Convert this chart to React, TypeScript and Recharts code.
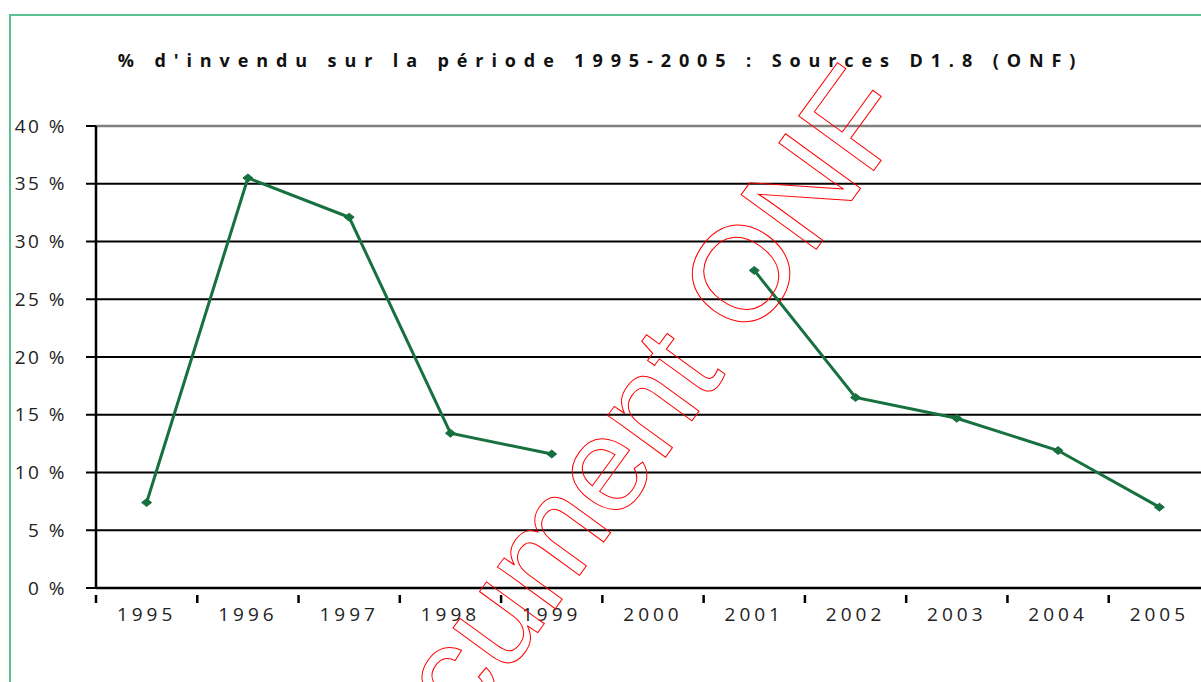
import React from "react";
import {
  LineChart,
  Line,
  XAxis,
  YAxis,
  CartesianGrid,
  ReferenceLine,
} from "recharts";

const years = ["1995", "1996", "1997", "1998", "1999", "2000", "2001", "2002", "2003", "2004", "2005"];
const unsold: (number | null)[] = [7.4, 35.5, 32.1, 13.4, 11.6, null, 27.5, 16.5, 14.7, 11.9, 7.0];
const yTicks = [0, 5, 10, 15, 20, 25, 30, 35, 40];

const TITLE = "% d'invendu sur la période 1995-2005 : Sources D1.8 (ONF)";
const WATERMARK = "Document ONF";

const CHART_W = 1220;
const CHART_H = 682;
const MARGIN = { top: 126, right: 10, bottom: 0, left: 0 };
const Y_W = 96;
const X_H = 94;
const BAND = (CHART_W - MARGIN.left - MARGIN.right - Y_W) / years.length;

const FONT = "'Open Sans', 'Noto Sans', sans-serif";
const GREEN = "#17703f";

const chartData = years.map((year, i) => ({ year, value: unsold[i] }));

function YearTick(props: any) {
  const { x, y, payload, index } = props;
  const left = x - BAND / 2;
  return (
    <g>
      <line x1={left} y1={y - 1} x2={left} y2={y + 7} stroke="#000" strokeWidth={2.5} />
      {index === years.length - 1 && (
        <line x1={left + BAND} y1={y - 1} x2={left + BAND} y2={y + 7} stroke="#000" strokeWidth={2.5} />
      )}
      <text
        x={x}
        y={y + 25}
        textAnchor="middle"
        fill="#222"
        fontSize={19}
        fontFamily={FONT}
        letterSpacing={4}
      >
        {payload.value}
      </text>
    </g>
  );
}

function Diamond(props: any) {
  const { cx, cy, value } = props;
  if (value == null || cx == null || cy == null) return null;
  return (
    <polygon
      points={`${cx - 5},${cy} ${cx},${cy - 4} ${cx + 5},${cy} ${cx},${cy + 4}`}
      fill={GREEN}
      stroke={GREEN}
      strokeWidth={1}
    />
  );
}

export default function App() {
  return (
    <div
      style={{
        position: "absolute",
        left: 0,
        top: 0,
        width: 1201,
        height: 682,
        overflow: "hidden",
        background: "#fff",
      }}
    >
      <div
        style={{
          position: "absolute",
          left: 9,
          top: 14,
          width: 1400,
          height: 1000,
          border: "2px solid #5cc190",
          boxSizing: "border-box",
        }}
      />
      <div
        style={{
          position: "absolute",
          left: 0,
          top: 48,
          width: 1201,
          textAlign: "center",
          fontFamily: FONT,
          fontWeight: 700,
          fontSize: 18,
          letterSpacing: 7.9,
          color: "#111",
          whiteSpace: "pre",
        }}
      >
        {TITLE}
      </div>
      <div style={{ position: "absolute", left: 0, top: 0 }}>
        <LineChart width={CHART_W} height={CHART_H} data={chartData} margin={MARGIN}>
          <CartesianGrid horizontal vertical={false} stroke="#000" strokeWidth={2} />
          <ReferenceLine y={40} stroke="#808080" strokeWidth={2.5} />
          <XAxis
            dataKey="year"
            scale="band"
            height={X_H}
            interval={0}
            axisLine={{ stroke: "#000", strokeWidth: 2.5 }}
            tickLine={false}
            tick={<YearTick />}
          />
          <YAxis
            width={Y_W}
            domain={[0, 40]}
            ticks={yTicks}
            interval={0}
            tickFormatter={(v: number) => `${v} %`}
            axisLine={{ stroke: "#000", strokeWidth: 2.5 }}
            tickLine={{ stroke: "#000", strokeWidth: 2 }}
            tickSize={10}
            tickMargin={19}
            tick={{ fill: "#222", fontSize: 19, fontFamily: FONT, letterSpacing: 2.5 }}
          />
          <Line
            dataKey="value"
            stroke={GREEN}
            strokeWidth={3}
            dot={<Diamond />}
            activeDot={false}
            connectNulls={false}
            isAnimationActive={false}
          />
        </LineChart>
      </div>
      <svg
        width={1201}
        height={682}
        style={{ position: "absolute", left: 0, top: 0, pointerEvents: "none" }}
      >
        <text
          x={640}
          y={492}
          textAnchor="middle"
          transform="rotate(-54 640 492)"
          fontFamily="'Liberation Sans', Arial, sans-serif"
          fontSize={135}
          fill="none"
          stroke="#ff0000"
          strokeWidth={1}
        >
          {WATERMARK}
        </text>
      </svg>
    </div>
  );
}
